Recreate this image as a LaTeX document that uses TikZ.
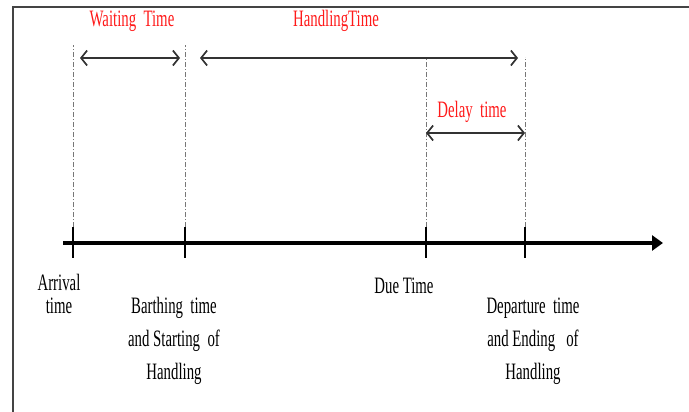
\documentclass[tikz,border=0pt]{standalone}
\usepackage{fontspec}
\setmainfont{Liberation Serif}
\newfontfamily\narrowserif[FakeStretch=0.63]{Liberation Serif}
\usetikzlibrary{arrows.meta}
\definecolor{framegray}{HTML}{444444}
\definecolor{linegray}{HTML}{333333}
\definecolor{guidegray}{HTML}{777777}
\definecolor{labelred}{HTML}{FF1A1A}
\begin{document}
\begin{tikzpicture}[x=1pt,y=-1pt,
  txt/.style={font=\narrowserif\fontsize{23.5}{33}\selectfont, inner sep=0pt, align=center},
  tight/.style={font=\narrowserif\fontsize{23.5}{22.5}\selectfont, inner sep=0pt, align=center},
  redtxt/.style={txt, text=labelred},
  guide/.style={draw=guidegray, line width=0.9pt, dash pattern=on 5pt off 2pt on 1pt off 2pt},
  span/.style={draw=linegray, line width=1.7pt,
    {Straight Barb[length=6pt,width=15pt]}-{Straight Barb[length=6pt,width=15pt]}},
  tick/.style={draw=black, line width=2.2pt},
  axis/.style={draw=black, line width=3.4pt, -{Triangle[length=11pt,width=15pt]}}]
  \useasboundingbox (0,0) rectangle (689,412);
  % outer frame (runs off the right and bottom edges)
  \draw[framegray, line width=2.6pt] (13,420) -- (13,7) -- (700,7);

  % time axis
  \coordinate (axstart) at (63,243);
  \coordinate (axend) at (663,243);
  \draw[axis] (axstart) -- (axend);

  % event ticks
  \foreach \n/\x in {arr/73, bar/185, due/426, dep/525}{
    \coordinate (\n-top) at (\x,227);
    \coordinate (\n-bot) at (\x,258);
    \draw[tick] (\n-top) -- (\n-bot);
  }

  % dash-dot guides up from the ticks
  \coordinate (arr-g) at (73,45);
  \coordinate (bar-g) at (185,45);
  \coordinate (due-g) at (426,58);
  \coordinate (dep-g) at (525,57);
  \foreach \n in {arr, bar, due, dep}{
    \draw[guide] (\n-top) -- (\n-g);
  }

  % duration spans
  \coordinate (w1) at (80,58);
  \coordinate (w2) at (180,58);
  \coordinate (h1) at (200,58);
  \coordinate (h2) at (518,58);
  \coordinate (d1) at (426,133);
  \coordinate (d2) at (525,133);
  \draw[span] (w1) -- (w2);
  \draw[span] (h1) -- (h2);
  \draw[span] (d1) -- (d2);

  % duration labels
  \node[redtxt] (waitlbl) at (132,21) {Waiting\ \ Time};
  \node[redtxt] (handlbl) at (336,21) {HandlingTime};
  \node[redtxt] (delaylbl) at (472,112) {Delay\ \ time};

  % event labels
  \node[tight] (arrlbl) at (59,294) {Arrival\\time};
  \node[txt] (barlbl) at (174,341) {Barthing\ \ time\\and Starting\ \ of\\Handling};
  \node[txt] (duelbl) at (404,286) {Due Time};
  \node[txt] (deplbl) at (533,341) {Departure\ \ time\\and Ending\ \ \ of\\Handling};
\end{tikzpicture}
\end{document}
